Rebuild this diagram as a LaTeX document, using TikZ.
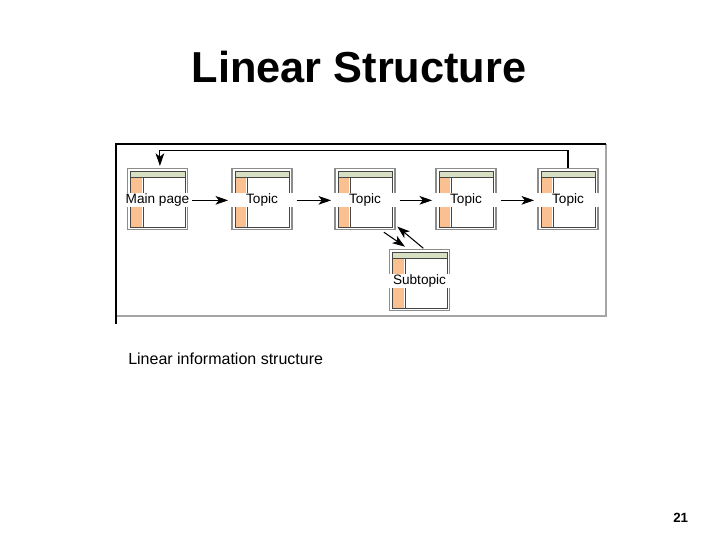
\documentclass[tikz,border=0pt]{standalone}
\usepackage{fontspec}
\setmainfont{Liberation Sans}
\definecolor{pagegray}{RGB}{140, 140, 140}
\definecolor{framegray}{RGB}{165, 165, 165}
\definecolor{headgreen}{RGB}{216, 224, 196}
\definecolor{sideorange}{RGB}{250, 192, 144}
\definecolor{linedark}{RGB}{70, 70, 70}
\usepackage{tikz}
\usetikzlibrary{arrows.meta, calc}

\begin{document}
\begin{tikzpicture}[x=0.75pt, y=-0.75pt,
  webpage/.style={draw=pagegray, line width=0.8pt, fill=white, minimum width=45pt, minimum height=45.75pt, inner sep=0pt,
    path picture={
      \coordinate (nw) at (path picture bounding box.north west);
      \fill[sideorange] ([shift={(2.25pt,-6.75pt)}]nw) rectangle ([shift={(10.8pt,-44.2pt)}]nw);
      \draw[linedark, line width=0.5pt] ([shift={(2.25pt,-6.75pt)}]nw) -- ([shift={(2.25pt,-44.2pt)}]nw) -- ([shift={(43.2pt,-44.2pt)}]nw) -- ([shift={(43.2pt,-6.75pt)}]nw);
      \draw[linedark, line width=0.6pt] ([shift={(11.8pt,-6.75pt)}]nw) -- ([shift={(11.8pt,-44.2pt)}]nw);
      \draw[linedark, line width=0.5pt, fill=headgreen] ([shift={(2.25pt,-1.9pt)}]nw) rectangle ([shift={(43.2pt,-6.75pt)}]nw);
    }},
  pagelabel/.style={fill=white, yshift=-1pt, minimum width=47pt, minimum height=10.5pt, inner xsep=1pt, inner ysep=0pt, font=\fontsize{10.2}{11}\selectfont},
  linkarrow/.style={line width=0.8pt, -{Stealth[length=9.5pt, width=6.5pt, inset=2.5pt]}}]

  \useasboundingbox (0,0) rectangle (720,540);

  % Title
  \node[font=\fontsize{32.5}{38}\bfseries\selectfont] (title) at (359,67) {Linear Structure};

  % Frame of the figure
  \draw[framegray, line width=1.5pt] (606,144) -- (606,316) -- (116,316);
  \draw[black, line width=1.1pt] (606,144) -- (116,144) -- (116,324);

  % Pages
  \node[webpage, label={[pagelabel]center:Main page}] (main) at (157.5,199) {};
  \node[webpage, label={[pagelabel]center:Topic}] (topic1) at (262,199) {};
  \node[webpage, label={[pagelabel]center:Topic}] (topic2) at (365,199) {};
  \node[webpage, label={[pagelabel]center:Topic}] (topic3) at (466,199) {};
  \node[webpage, label={[pagelabel]center:Topic}] (topic4) at (568,199) {};
  \node[webpage, label={[pagelabel]center:Subtopic}] (subtopic) at (419.5,280) {};

  % Links
  \foreach \a/\b in {main/topic1, topic1/topic2, topic2/topic3, topic3/topic4}
    \draw[linkarrow, shorten <=3pt, shorten >=2.5pt] ([yshift=-1pt]\a.east) -- ([yshift=-1pt]\b.west);
  \draw[linkarrow, shorten >=1.5pt] (topic4.north) -- ++(0,-17.5) -| ([xshift=1.8pt]main.north);
  \draw[linkarrow] ([shift={(-8.8pt,-1.6pt)}]topic2.south east) -- ([shift={(-10.9pt,1.7pt)}]subtopic.north);
  \draw[linkarrow] ([shift={(2.9pt,0.5pt)}]subtopic.north) -- ([shift={(1.3pt,2.6pt)}]topic2.south east);

  % Caption and page number
  \node[anchor=base west, inner sep=0pt, font=\fontsize{12}{14}\selectfont] (caption) at (128,364) {Linear information structure};
  \node[anchor=base west, inner sep=0pt, font=\fontsize{10}{12}\bfseries\selectfont] (pagenum) at (673,522) {21};
\end{tikzpicture}
\end{document}
